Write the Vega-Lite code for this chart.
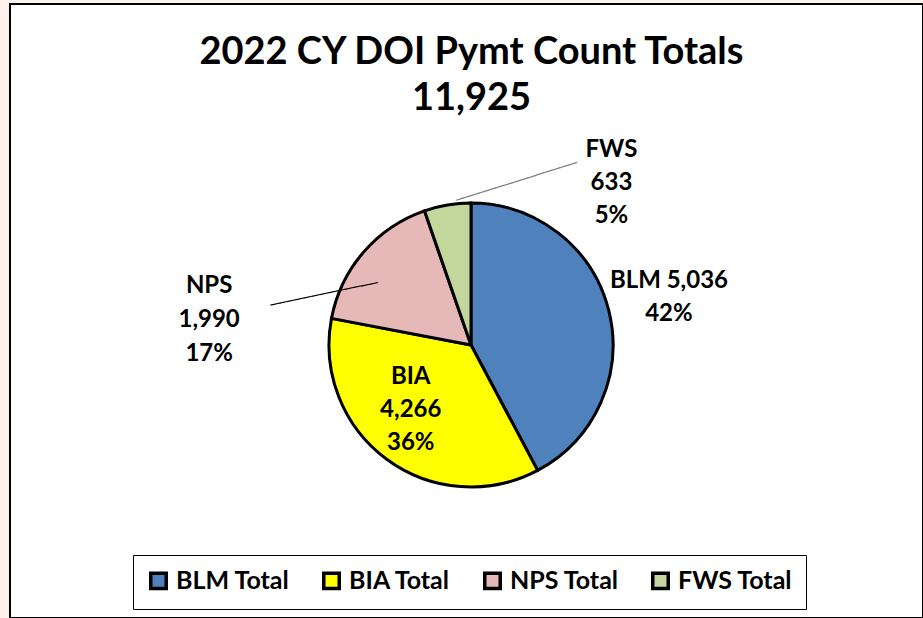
{
  "$schema": "https://vega.github.io/schema/vega-lite/v6.json",
  "width": 913,
  "height": 614,
  "autosize": {"type": "none"},
  "padding": {"left": 10, "top": 4, "right": 0, "bottom": 0},
  "background": "#FDF2EC",
  "view": {"fill": "white", "stroke": "black", "strokeWidth": 2},
  "config": {
    "view": {"fill": "white", "stroke": "black", "strokeWidth": 2},
    "font": "Lato"
  },
  "title": {
    "text": ["2022 CY DOI Pymt Count Totals", "11,925"],
    "font": "Lato",
    "fontSize": 38,
    "fontWeight": "bold",
    "lineHeight": 46,
    "color": "black",
    "anchor": "middle",
    "offset": -114,
    "dx": 5
  },
  "data": {
    "values": [
      {"cat": "BLM", "value": 5036, "ord": 1},
      {"cat": "BIA", "value": 4266, "ord": 2},
      {"cat": "NPS", "value": 1990, "ord": 3},
      {"cat": "FWS", "value": 633, "ord": 4}
    ]
  },
  "transform": [
    {"joinaggregate": [{"op": "sum", "field": "value", "as": "total"}]},
    {"calculate": "format(datum.value / datum.total, '.0%')", "as": "pct"},
    {"calculate": "datum.cat === 'BLM' ? datum.cat + ' ' + format(datum.value, ',') + '\\n' + datum.pct : datum.cat + '\\n' + format(datum.value, ',') + '\\n' + datum.pct", "as": "lab"}
  ],
  "layer": [
    {
      "mark": {"type": "arc", "outerRadius": 142, "stroke": "black", "strokeWidth": 3, "xOffset": 4.5, "yOffset": 34},
      "encoding": {
        "theta": {"field": "value", "type": "quantitative", "stack": true},
        "order": {"field": "ord", "type": "quantitative"},
        "color": {
          "field": "cat",
          "type": "nominal",
          "scale": {"domain": ["BLM", "BIA", "NPS", "FWS"], "range": ["#4F81BD", "#FFFF00", "#E6B9B8", "#C3D69B"]},
          "legend": {
            "orient": "none",
            "legendX": 123,
            "legendY": 551,
            "direction": "horizontal",
            "title": null,
            "labelExpr": "datum.label + ' Total'",
            "symbolType": "square",
            "symbolSize": 240,
            "symbolStrokeColor": "black",
            "symbolStrokeWidth": 3.5,
            "symbolOpacity": 1,
            "labelFont": "Lato",
            "labelFontSize": 25,
            "labelFontWeight": "bold",
            "labelColor": "black",
            "labelOffset": 5,
            "columnPadding": 26,
            "padding": 13,
            "strokeColor": "black",
            "fillColor": "white"
          }
        }
      }
    },
    {
      "mark": {"type": "text", "radius": 204, "font": "Lato", "fontSize": 24, "fontWeight": "bold", "lineBreak": "\n", "lineHeight": 33, "align": "center", "baseline": "middle", "color": "black", "xOffset": 4.5, "yOffset": 34, "dy": -14.5},
      "encoding": {
        "theta": {"field": "value", "type": "quantitative", "stack": true},
        "order": {"field": "ord", "type": "quantitative"},
        "detail": {"field": "cat", "type": "nominal"},
        "text": {"condition": {"test": "datum.cat === 'BLM'", "field": "lab"}, "value": ""}
      }
    },
    {
      "mark": {"type": "text", "radius": 88, "font": "Lato", "fontSize": 24, "fontWeight": "bold", "lineBreak": "\n", "lineHeight": 33, "align": "center", "baseline": "middle", "color": "black", "xOffset": 4.5, "yOffset": 34, "dx": -8, "dy": -39},
      "encoding": {
        "theta": {"field": "value", "type": "quantitative", "stack": true},
        "order": {"field": "ord", "type": "quantitative"},
        "detail": {"field": "cat", "type": "nominal"},
        "text": {"condition": {"test": "datum.cat === 'BIA'", "field": "lab"}, "value": ""}
      }
    },
    {
      "mark": {"type": "text", "radius": 214, "font": "Lato", "fontSize": 24, "fontWeight": "bold", "lineBreak": "\n", "lineHeight": 34, "align": "center", "baseline": "middle", "color": "black", "xOffset": 4.5, "yOffset": 34, "dx": -100, "dy": 81},
      "encoding": {
        "theta": {"field": "value", "type": "quantitative", "stack": true},
        "order": {"field": "ord", "type": "quantitative"},
        "detail": {"field": "cat", "type": "nominal"},
        "text": {"condition": {"test": "datum.cat === 'NPS'", "field": "lab"}, "value": ""}
      }
    },
    {
      "mark": {"type": "text", "radius": 136, "font": "Lato", "fontSize": 24, "fontWeight": "bold", "lineBreak": "\n", "lineHeight": 33, "align": "center", "baseline": "middle", "color": "black", "xOffset": 4.5, "yOffset": 34, "dx": 163, "dy": -61},
      "encoding": {
        "theta": {"field": "value", "type": "quantitative", "stack": true},
        "order": {"field": "ord", "type": "quantitative"},
        "detail": {"field": "cat", "type": "nominal"},
        "text": {"condition": {"test": "datum.cat === 'FWS'", "field": "lab"}, "value": ""}
      }
    },
    {
      "mark": {"type": "text", "radius": 144, "font": "DejaVu Sans", "fontSize": 14, "align": "center", "baseline": "middle", "color": "black", "angle": 348.1, "xOffset": 4.5, "yOffset": 34, "dx": -46, "dy": 35},
      "encoding": {
        "theta": {"field": "value", "type": "quantitative", "stack": true},
        "order": {"field": "ord", "type": "quantitative"},
        "detail": {"field": "cat", "type": "nominal"},
        "text": {"condition": {"test": "datum.cat === 'NPS'", "value": "─────────────"}, "value": ""}
      }
    },
    {
      "mark": {"type": "text", "radius": 153, "font": "DejaVu Sans", "fontSize": 14, "align": "center", "baseline": "middle", "color": "#7F7F7F", "angle": 342.6, "xOffset": 4.5, "yOffset": 34, "dx": 71.5, "dy": 9.8},
      "encoding": {
        "theta": {"field": "value", "type": "quantitative", "stack": true},
        "order": {"field": "ord", "type": "quantitative"},
        "detail": {"field": "cat", "type": "nominal"},
        "text": {"condition": {"test": "datum.cat === 'FWS'", "value": "───────────────"}, "value": ""}
      }
    }
  ]
}
